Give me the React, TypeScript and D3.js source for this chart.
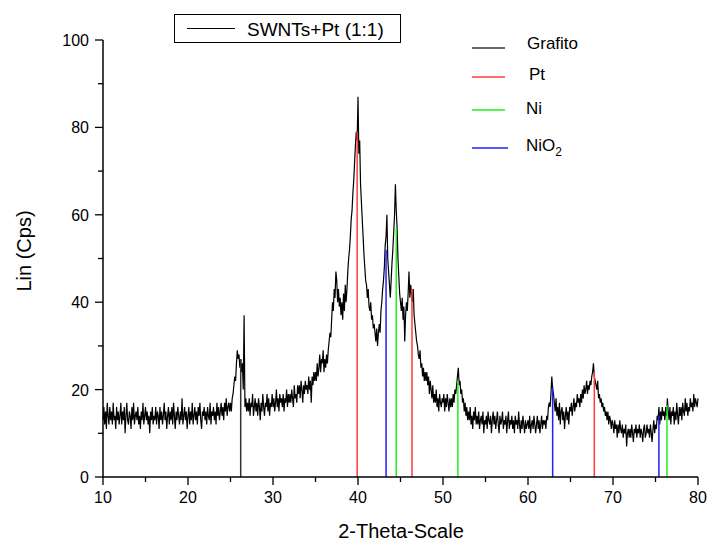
import React, { useRef, useEffect } from "react";
import { select, scaleLinear, line, range } from "d3";

// XRD pattern, one row per degree (10.0 .. 10.9, 11.0 .. 11.9, ...), step 0.1
const startAngle = 10;
const stepAngle = 0.1;
const intensity = [
  [13, 16, 12, 15, 11, 17, 14, 12, 16, 13],
  [15, 12, 17, 13, 14, 11, 16, 13, 15, 12],
  [14, 17, 12, 15, 13, 16, 10, 14, 17, 13],
  [12, 15, 14, 11, 16, 13, 17, 12, 14, 15],
  [13, 16, 12, 14, 11, 15, 13, 17, 12, 14],
  [16, 13, 15, 12, 14, 10, 15, 13, 16, 12],
  [14, 13, 16, 12, 15, 14, 11, 16, 13, 15],
  [12, 14, 17, 13, 15, 11, 14, 16, 12, 15],
  [13, 16, 12, 17, 14, 11, 15, 13, 16, 14],
  [12, 15, 13, 18, 12, 14, 16, 13, 15, 11],
  [14, 16, 12, 15, 13, 17, 12, 14, 16, 13],
  [15, 12, 16, 14, 17, 13, 11, 15, 14, 16],
  [13, 15, 12, 16, 14, 13, 17, 12, 15, 14],
  [16, 13, 15, 12, 17, 14, 16, 13, 15, 17],
  [14, 16, 13, 17, 15, 18, 14, 16, 17, 15],
  [17, 15, 18, 19, 21, 23, 22, 26, 29, 27],
  [28, 25, 27, 24, 26, 20, 37, 16, 18, 15],
  [17, 15, 18, 14, 17, 16, 19, 14, 16, 18],
  [15, 17, 14, 18, 16, 13, 17, 15, 19, 16],
  [14, 17, 16, 19, 15, 18, 14, 17, 16, 19],
  [16, 18, 15, 17, 20, 16, 18, 15, 19, 17],
  [18, 16, 19, 15, 18, 17, 20, 16, 19, 17],
  [19, 17, 20, 18, 16, 21, 18, 19, 17, 21],
  [19, 21, 18, 22, 20, 17, 21, 19, 22, 20],
  [21, 19, 23, 20, 22, 17, 23, 21, 24, 22],
  [24, 22, 26, 23, 25, 28, 24, 27, 26, 29],
  [24, 27, 25, 28, 26, 29, 31, 33, 32, 36],
  [40, 38, 43, 41, 47, 45, 40, 43, 39, 41],
  [37, 40, 36, 42, 38, 44, 40, 43, 47, 50],
  [52, 55, 59, 61, 65, 68, 72, 76, 79, 77],
  [87, 74, 77, 67, 63, 59, 55, 51, 48, 45],
  [44, 41, 43, 39, 38, 40, 36, 37, 34, 35],
  [33, 31, 34, 30, 33, 35, 33, 38, 40, 43],
  [45, 48, 53, 55, 60, 50, 47, 44, 41, 45],
  [49, 52, 56, 60, 67, 61, 57, 50, 46, 42],
  [40, 38, 41, 36, 39, 31, 37, 40, 38, 42],
  [47, 41, 44, 42, 40, 43, 37, 35, 33, 31],
  [30, 28, 27, 29, 25, 26, 23, 25, 22, 24],
  [22, 24, 21, 23, 19, 22, 20, 18, 21, 17],
  [19, 17, 20, 16, 18, 15, 19, 17, 16, 18],
  [17, 19, 15, 18, 16, 19, 17, 15, 18, 16],
  [18, 16, 19, 17, 20, 19, 21, 23, 25, 21],
  [22, 19, 20, 17, 18, 15, 17, 14, 16, 13],
  [15, 13, 16, 12, 14, 11, 15, 13, 16, 12],
  [14, 12, 15, 11, 13, 14, 12, 15, 10, 13],
  [12, 14, 11, 15, 13, 12, 14, 10, 13, 15],
  [12, 14, 11, 13, 15, 12, 10, 14, 12, 13],
  [15, 11, 13, 12, 14, 10, 13, 15, 11, 13],
  [12, 14, 11, 13, 10, 14, 12, 13, 11, 15],
  [12, 10, 13, 11, 14, 12, 10, 13, 11, 12],
  [13, 11, 14, 10, 12, 13, 11, 14, 12, 10],
  [12, 14, 11, 13, 10, 12, 14, 11, 13, 12],
  [13, 11, 14, 13, 16, 17, 16, 19, 23, 20],
  [19, 17, 15, 18, 14, 16, 13, 17, 12, 15],
  [16, 13, 15, 11, 14, 16, 13, 15, 12, 16],
  [15, 17, 14, 16, 18, 15, 17, 16, 19, 17],
  [18, 16, 19, 17, 20, 18, 21, 19, 20, 22],
  [19, 21, 20, 22, 21, 23, 24, 26, 23, 22],
  [21, 20, 22, 18, 19, 17, 18, 16, 17, 15],
  [16, 14, 15, 13, 15, 12, 14, 13, 11, 13],
  [12, 10, 13, 11, 12, 9, 12, 10, 13, 11],
  [10, 12, 9, 11, 10, 12, 7, 10, 11, 9],
  [11, 9, 12, 10, 8, 11, 10, 12, 9, 11],
  [10, 12, 9, 11, 10, 8, 11, 12, 9, 10],
  [12, 10, 11, 9, 12, 10, 8, 11, 13, 10],
  [12, 11, 14, 13, 16, 12, 15, 13, 16, 14],
  [15, 13, 16, 14, 18, 15, 13, 16, 12, 15],
  [14, 16, 12, 15, 13, 17, 14, 12, 16, 14],
  [16, 13, 17, 15, 14, 18, 15, 17, 14, 16],
  [15, 18, 16, 17, 15, 19, 16, 18, 17, 16],
  [18],
];

// reference patterns: [2-theta, height]
const grafitoSticks = [[26.2, 27]];
const ptSticks = [[39.9, 79], [46.35, 43], [67.8, 24]];
const niSticks = [[44.5, 57], [51.75, 22], [76.35, 16.5]];
const nio2Sticks = [[43.3, 52], [62.9, 20.5], [75.4, 14]];

const xTicks = [10, 20, 30, 40, 50, 60, 70, 80];
const yTicks = [0, 20, 40, 60, 80, 100];

const patterns = [
  { name: "Grafito", color: "#333333", sticks: grafitoSticks },
  { name: "Pt", color: "#ff3b3b", sticks: ptSticks },
  { name: "Ni", color: "#22ee22", sticks: niSticks },
  { name: "NiO", sub: "2", color: "#2020ff", sticks: nio2Sticks },
];

const FONT = "Arial, 'Liberation Sans', sans-serif";

function App() {
  const svgRef = useRef(null);

  useEffect(() => {
    const svg = select(svgRef.current);
    svg.selectAll("*").remove();

    const x = scaleLinear().domain([10, 80]).range([103, 698]);
    const y = scaleLinear().domain([0, 100]).range([477, 40]);

    const points = intensity.flat().map((v, i) => [startAngle + i * stepAngle, v]);

    // curve
    svg
      .append("path")
      .datum(points)
      .attr("fill", "none")
      .attr("stroke", "#000")
      .attr("stroke-width", 1.2)
      .attr("d", line().x((d) => x(d[0])).y((d) => y(d[1])));

    // stick patterns on top
    patterns.forEach((p) => {
      svg
        .selectAll(".stick-" + p.name)
        .data(p.sticks)
        .join("line")
        .attr("x1", (d) => x(d[0]))
        .attr("x2", (d) => x(d[0]))
        .attr("y1", y(0))
        .attr("y2", (d) => y(d[1]))
        .attr("stroke", p.color)
        .attr("stroke-width", 1.5);
    });

    // axes
    const axis = svg.append("g").attr("stroke", "#000");
    axis.append("line").attr("x1", x(10)).attr("x2", x(10)).attr("y1", y(0) + 0.5).attr("y2", y(100)).attr("stroke-width", 1.5);
    axis.append("line").attr("x1", x(10) - 0.5).attr("x2", x(80)).attr("y1", y(0)).attr("y2", y(0)).attr("stroke-width", 1.5);

    axis
      .selectAll(".xt")
      .data(range(10, 81, 5))
      .join("line")
      .attr("x1", (d) => x(d))
      .attr("x2", (d) => x(d))
      .attr("y1", y(0))
      .attr("y2", (d) => y(0) + (d % 10 === 0 ? 8 : 5))
      .attr("stroke-width", 1.3);

    axis
      .selectAll(".yt")
      .data(range(0, 101, 10))
      .join("line")
      .attr("y1", (d) => y(d))
      .attr("y2", (d) => y(d))
      .attr("x1", x(10))
      .attr("x2", (d) => x(10) - (d % 20 === 0 ? 8 : 5))
      .attr("stroke-width", 1.3);

    svg
      .selectAll(".xl")
      .data(xTicks)
      .join("text")
      .attr("x", (d) => x(d))
      .attr("y", y(0) + 26)
      .attr("text-anchor", "middle")
      .attr("font-family", FONT)
      .attr("font-size", 16)
      .text((d) => d);

    svg
      .selectAll(".yl")
      .data(yTicks)
      .join("text")
      .attr("x", x(10) - 14)
      .attr("y", (d) => y(d) + 6)
      .attr("text-anchor", "end")
      .attr("font-family", FONT)
      .attr("font-size", 16)
      .text((d) => d);

    svg
      .append("text")
      .attr("x", 401)
      .attr("y", 538)
      .attr("text-anchor", "middle")
      .attr("font-family", FONT)
      .attr("font-size", 20)
      .text("2-Theta-Scale");

    svg
      .append("text")
      .attr("transform", "translate(31,251) rotate(-90)")
      .attr("text-anchor", "middle")
      .attr("font-family", FONT)
      .attr("font-size", 20)
      .text("Lin (Cps)");

    // series legend box
    svg.append("rect").attr("x", 174.5).attr("y", 14.5).attr("width", 226).attr("height", 28).attr("fill", "#fff").attr("stroke", "#000");
    svg.append("line").attr("x1", 187).attr("x2", 235).attr("y1", 28.5).attr("y2", 28.5).attr("stroke", "#000");
    svg
      .append("text")
      .attr("x", 247)
      .attr("y", 36)
      .attr("font-family", FONT)
      .attr("font-size", 19)
      .text("SWNTs+Pt (1:1)");

    // pattern legend
    const legendLineY = [48, 77, 110, 148];
    const legendTextY = [49, 80, 114, 151];
    const legendTextX = [527, 529, 526, 526];
    patterns.forEach((p, i) => {
      svg
        .append("line")
        .attr("x1", 472)
        .attr("x2", i === 3 ? 508 : 505)
        .attr("y1", legendLineY[i])
        .attr("y2", legendLineY[i])
        .attr("stroke", p.color)
        .attr("stroke-width", 1.5);
      const t = svg
        .append("text")
        .attr("x", legendTextX[i])
        .attr("y", legendTextY[i])
        .attr("font-family", FONT)
        .attr("font-size", 17)
        .text(p.name);
      if (p.sub) {
        t.append("tspan").attr("dy", 5).attr("font-size", 12).text(p.sub);
      }
    });
  }, []);

  return (
    <svg
      ref={svgRef}
      width={711}
      height={545}
      style={{ position: "absolute", left: 0, top: 0, background: "#fff" }}
    ></svg>
  );
}

export default App;
